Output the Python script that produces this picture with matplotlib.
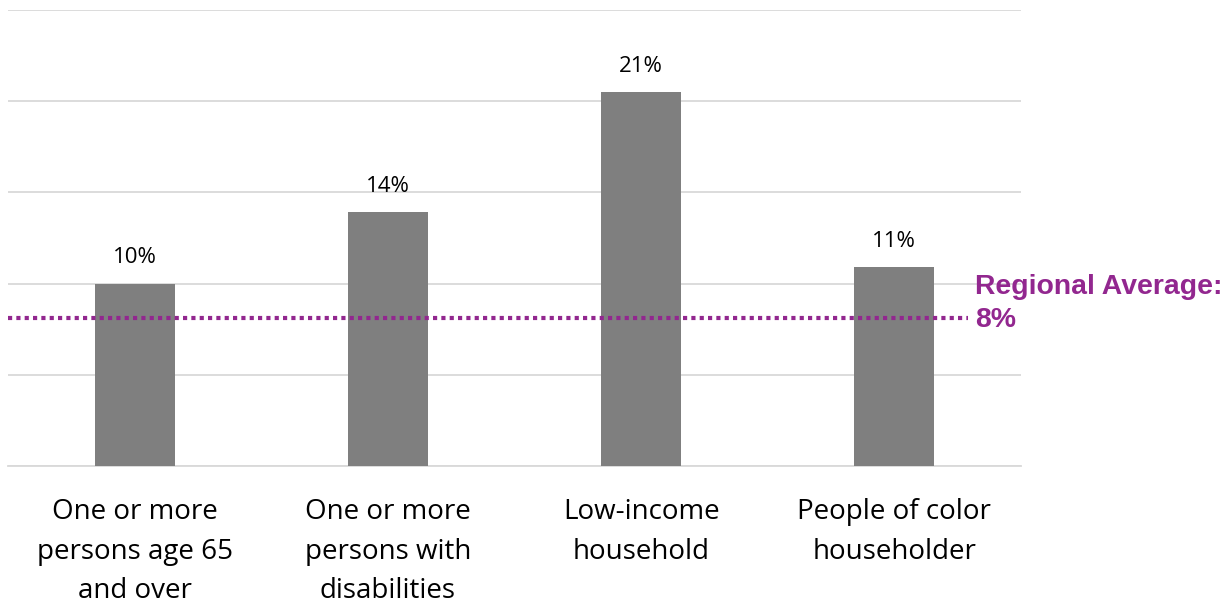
import matplotlib.pyplot as plt

categories = ['One or more\npersons age 65\nand over', 'One or more\npersons with\ndisabilities',
              'Low-income\nhousehold', 'People of color\nhouseholder']
values = [10.0, 13.9, 20.5, 10.9]
labels = ['10%', '14%', '21%', '11%']
regional_avg = 8.1

plt.rcParams['font.family'] = ['Open Sans', 'DejaVu Sans']

fig = plt.figure(figsize=(12.31, 6.01), dpi=100)
ax = fig.add_axes([8 / 1231, (601 - 466) / 601, 1013 / 1231, 456 / 601])

x = range(len(categories))
ax.bar(x, values, width=0.316, color='#7f7f7f', zorder=3)
for i, v in enumerate(values):
    ax.text(i, v + 0.85, labels[i], ha='center', va='bottom', fontsize=16, color='#000000')

ax.set_xlim(-0.5, 3.5)
ax.set_ylim(0, 25)
ax.set_yticks([0, 5, 10, 15, 20, 25])
ax.yaxis.grid(True, color='#d9d9d9', lw=1.3, zorder=0)
ax.set_yticklabels([])
ax.tick_params(axis='both', length=0)
ax.set_xticks(list(x))
ax.set_xticklabels(categories, fontsize=20, linespacing=1.56)
ax.tick_params(axis='x', pad=23)
for s in ['top', 'left', 'right']:
    ax.spines[s].set_visible(False)
ax.spines['bottom'].set_color('#d9d9d9')
ax.spines['bottom'].set_linewidth(1.3)

# regional average line
ax.plot([-0.5, 3.29], [regional_avg, regional_avg], color='#92278f', lw=3,
        linestyle=(0, (1, 1)), zorder=4, clip_on=False)
fig.text(975 / 1231, (601 - 303.5) / 601, 'Regional Average:\n8%', ha='left', va='center',
         fontsize=20.4, fontweight='bold', color='#92278f', family='Liberation Sans',
         linespacing=1.35)

fig.savefig('out.png', dpi=100)
